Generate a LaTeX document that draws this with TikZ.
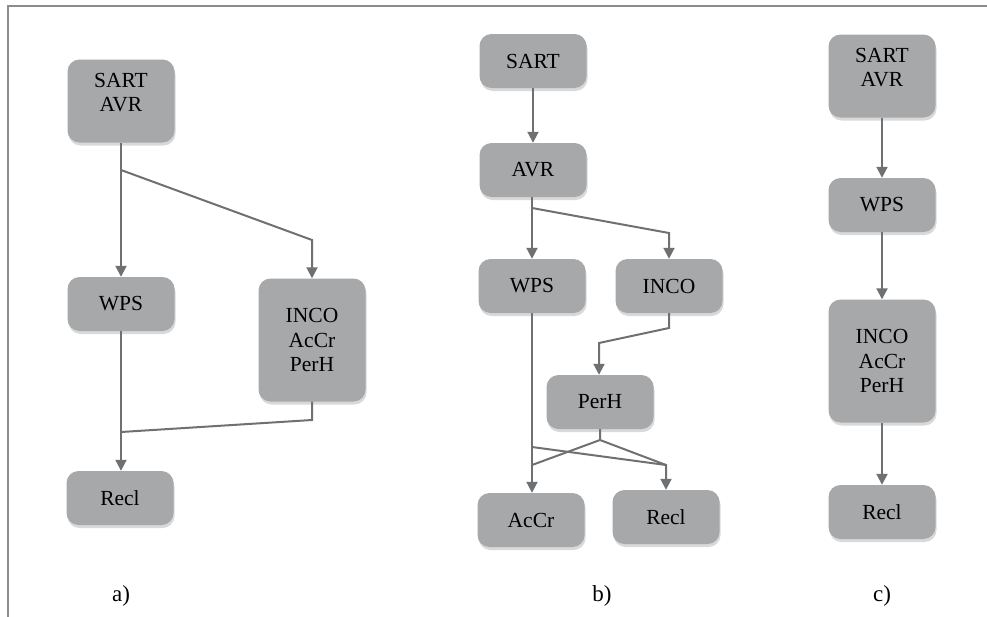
\documentclass[tikz,border=0pt]{standalone}
\usepackage{fontspec}
\setmainfont{Liberation Serif}
\newfontfamily\boxfont{Liberation Serif}
\usetikzlibrary{arrows.meta, shadows}

\definecolor{boxgray}{HTML}{A6A8AA}
\definecolor{linkgray}{HTML}{6E7072}
\definecolor{framegray}{HTML}{8C8C8C}

\begin{document}
\begin{tikzpicture}[x=1pt, y=-1pt, font=\boxfont\fontsize{21.5}{24.5}\selectfont,
        box/.style={fill=boxgray, rounded corners=12pt, minimum width=107pt, minimum height=54pt, inner sep=0pt, align=center,
          drop shadow={opacity=0.3, shadow xshift=1pt, shadow yshift=-3pt}},
        tallbox/.style={box, minimum height=83pt, text depth=17pt},
        bigbox/.style={box, minimum height=123pt},
        link/.style={draw=linkgray, line width=2pt},
        flow/.style={link, -{Triangle[width=11pt, length=11pt]}},
        caption/.style={anchor=base, font=\boxfont\fontsize{23}{25}\selectfont},
      ]
        \useasboundingbox (0,0) rectangle (987,616);
        \draw[framegray, line width=2pt] (8,6) rectangle (1000,630);

        % a) SART and AVR together
        \node[tallbox] (sa) at (121,101) {SART\\AVR};
        \node[box] (wpsa) at (121,304) {WPS};
        \node[bigbox] (incoa) at (312,340) {INCO\\AcCr\\PerH};
        \node[box] (recla) at (120,498) {Recl};

        \coordinate (forka) at (121,170);
        \coordinate (benda) at (312,240);
        \coordinate (dropa) at (312,420);
        \coordinate (joina) at (121,432);
        \draw[flow] (sa.south) -- (wpsa.north);
        \draw[flow] (forka) -- (benda) -- (incoa.north);
        \draw[flow] (wpsa.south) -- (recla.north -| wpsa.south);
        \draw[link] (incoa.south) -- (dropa) -- (joina);

        % b) every step on its own
        \node[box] (sartb) at (533,61) {SART};
        \node[box] (avrb) at (533,170) {AVR};
        \node[box] (wpsb) at (532,286) {WPS};
        \node[box] (incob) at (669,286) {INCO};
        \node[box] (perhb) at (600,402) {PerH};
        \node[box] (accrb) at (531,520) {AcCr};
        \node[box] (reclb) at (666,517) {Recl};

        \draw[flow] (sartb) -- (avrb);
        \draw[flow] (avrb.south -| wpsb) -- (wpsb);
        \coordinate (forkb) at (532,208);
        \coordinate (bendb) at (669,233);
        \draw[flow] (forkb) -- (bendb) -- (incob);
        \coordinate (dropb) at (669,328);
        \coordinate (bendperh) at (599,343);
        \draw[flow] (incob) -- (dropb) -- (bendperh) -- (bendperh |- perhb.north);
        \draw[flow] (wpsb) -- (wpsb |- accrb.north);

        % crossing into AcCr and Recl
        \coordinate (crossl) at (532,447);
        \coordinate (stemperh) at (600,440);
        \coordinate (hitaccr) at (532,465);
        \coordinate (hitrecl) at (666,465);
        \draw[link] (crossl) -- (hitrecl);
        \draw[link] (perhb) -- (stemperh) -- (hitaccr);
        \draw[flow] (stemperh) -- (hitrecl) -- (reclb);

        % c) one chain
        \node[tallbox] (sc) at (882,76) {SART\\AVR};
        \node[box] (wpsc) at (882,205) {WPS};
        \node[bigbox] (incoc) at (882,361) {INCO\\AcCr\\PerH};
        \node[box] (reclc) at (882,512) {Recl};

        \draw[flow] (sc) -- (wpsc);
        \draw[flow] (wpsc) -- (incoc);
        \draw[flow] (incoc) -- (reclc);

        % captions
        \node[caption] (capa) at (121,601) {a)};
        \node[caption] (capb) at (602,601) {b)};
        \node[caption] (capc) at (882,601) {c)};
      \end{tikzpicture}
\end{document}
